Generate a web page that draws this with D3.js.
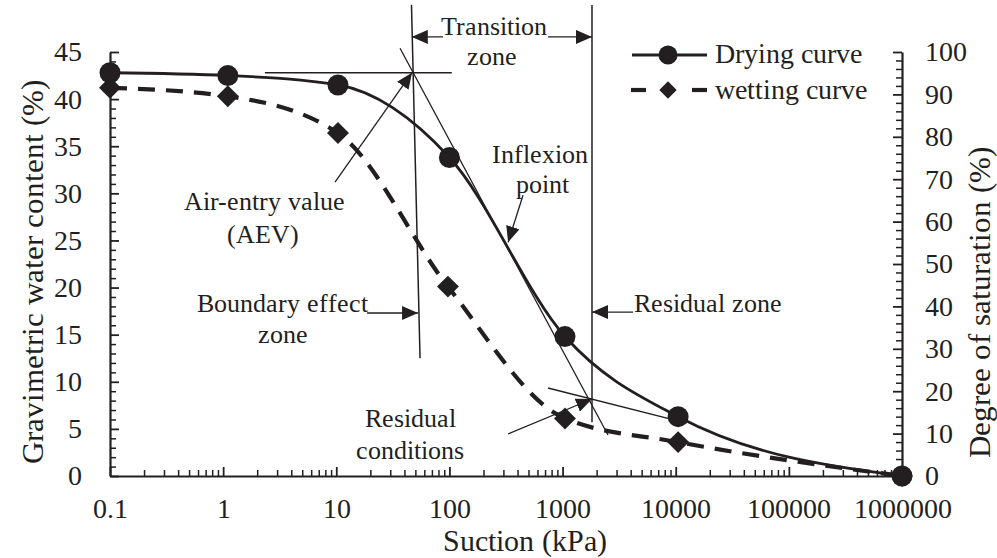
<!DOCTYPE html>
<html>
<head>
<meta charset="utf-8">
<script src="https://cdn.jsdelivr.net/npm/d3@7"></script>
<style>
  @font-face { font-family: "ChartSerif"; src: local("Liberation Serif"), local("LiberationSerif"), local("LiberationSerif-Regular"), local("Times New Roman"); }
</style>
</head>
<body style="margin:0">
<svg id="fig" width="997" height="558"></svg>
<script>
// ---------- DATA ----------
const suctionDrying = [0.1, 1.1, 10.35, 100, 1050, 10500, 1000000];
const waterDrying   = [42.8, 42.5, 41.5, 33.8, 14.8, 6.3, 0];
const suctionWetting = [0.1, 1.1, 10.35, 97, 1050, 10500, 1000000];
const waterWetting   = [41.2, 40.3, 36.4, 20.1, 6.1, 3.6, 0];

const xTickValues = [0.1, 1, 10, 100, 1000, 10000, 100000, 1000000];
const xTickLabels = ["0.1", "1", "10", "100", "1000", "10000", "100000", "1000000"];
const yLeftTicks = [0, 5, 10, 15, 20, 25, 30, 35, 40, 45];
const yRightTicks = [0, 10, 20, 30, 40, 50, 60, 70, 80, 90, 100];

const legendLabels = ["Drying curve", "wetting curve"];

// annotation geometry in data units: [suction (kPa), water content (%)]
const aevHorizontal = [[2.34, 42.8], [105, 42.8]];
const steepTangent = [[36.6, 45.4], [2520, 4.35]];
const residualTangent = [[743, 9.34], [12500, 5.6]];
const leftBoundary = [[46.2, 50], [55, 12.5]];
const rightBoundary = [[1820, 50], [1820, 5.7]];
const transitionLeft = [[87.8, 46.6], [46.5, 46.6]];
const transitionRight = [[743, 46.6], [1820, 46.6]];
const aevArrow = [[9.75, 31.2], [46.7, 42.8]];
const inflexionArrow = [[447, 29.8], [330, 24.8]];
const boundaryArrow = [[18.7, 17.3], [52.8, 17.3]];
const residualZoneArrow = [[4200, 17.4], [1820, 17.4]];
const residualCondArrow = [[330, 4.46], [1820, 8.17]];
const annotationTexts = [
  {t: "Transition", s: 248, w: 46.8},
  {t: "zone", s: 238, w: 43.6},
  {t: "Inflexion", s: 632, w: 33.2},
  {t: "point", s: 658, w: 30.0},
  {t: "Air-entry value", s: 2.30, w: 28.2},
  {t: "(AEV)", s: 2.25, w: 24.7},
  {t: "Boundary effect", s: 3.38, w: 17.4},
  {t: "zone", s: 3.38, w: 14.1},
  {t: "Residual", s: 44.9, w: 5.2},
  {t: "conditions", s: 44.9, w: 1.8}
];
const residualZoneLabel = {t: "Residual zone", s: 4200, w: 17.4};

// ---------- SCALES ----------
const ink = "#231f20";
const FONT = 'ChartSerif, "Liberation Serif", "Times New Roman", serif';
const svg = d3.select("#fig");
const x = d3.scaleLog().domain([0.1, 1000000]).range([110, 902]);
const yL = d3.scaleLinear().domain([0, 45]).range([476, 52]);
const yR = d3.scaleLinear().domain([0, 100]).range([476, 52]);
const P = d => [x(d[0]), yL(d[1])];

const defs = svg.append("defs");
defs.append("marker").attr("id", "arr")
  .attr("markerUnits", "userSpaceOnUse")
  .attr("viewBox", "0 -7 16 14").attr("refX", 16).attr("refY", 0)
  .attr("markerWidth", 16).attr("markerHeight", 14).attr("orient", "auto")
  .append("path").attr("d", "M0,-7L16,0L0,7Z").attr("fill", ink);

function styleAxis(g) {
  g.attr("font-family", FONT).attr("font-size", 28);
  g.select(".domain").attr("stroke", ink).attr("stroke-width", 2.2);
  g.selectAll("line").attr("stroke", ink).attr("stroke-width", 1.8);
  g.selectAll("text").attr("font-family", FONT).style("font-family", FONT).attr("font-size", 28).attr("fill", ink);
}
function styleMinor(g) {
  g.select(".domain").remove();
  g.selectAll("line").attr("stroke", ink).attr("stroke-width", 1.5);
}

// ---------- AXES ----------
const xMinor = [];
for (let e = -1; e < 6; e++) for (let k = 2; k <= 9; k++) xMinor.push(k * Math.pow(10, e));
svg.append("g").attr("transform", "translate(0,476)")
  .call(d3.axisBottom(x).tickValues(xMinor).tickFormat("").tickSizeInner(-6).tickSizeOuter(0))
  .call(styleMinor);
svg.append("g").attr("transform", "translate(0,476)")
  .call(d3.axisBottom(x).tickValues(xTickValues)
    .tickFormat((d, i) => xTickLabels[i]).tickSizeInner(-9).tickSizeOuter(0).tickPadding(22))
  .call(styleAxis);

const yMinorL = d3.range(0, 46, 1).filter(v => v % 5 !== 0);
svg.append("g").attr("transform", "translate(110,0)")
  .call(d3.axisLeft(yL).tickValues(yMinorL).tickFormat("").tickSizeInner(-6).tickSizeOuter(0))
  .call(styleMinor);
svg.append("g").attr("transform", "translate(110,0)")
  .call(d3.axisLeft(yL).tickValues(yLeftTicks).tickSizeInner(-9).tickSizeOuter(0).tickPadding(28))
  .call(styleAxis);

const yMinorR = d3.range(0, 101, 2).filter(v => v % 10 !== 0);
svg.append("g").attr("transform", "translate(902,0)")
  .call(d3.axisRight(yR).tickValues(yMinorR).tickFormat("").tickSizeInner(-6).tickSizeOuter(0))
  .call(styleMinor);
svg.append("g").attr("transform", "translate(902,0)")
  .call(d3.axisRight(yR).tickValues(yRightTicks).tickSizeInner(-9).tickSizeOuter(0).tickPadding(23))
  .call(styleAxis);

function txt(sel, size) {
  return sel.attr("font-family", FONT).style("font-family", FONT).attr("font-size", size).attr("fill", ink);
}

// axis titles
txt(svg.append("text").attr("x", 525).attr("y", 551).attr("text-anchor", "middle"), 30)
  .text("Suction (kPa)");
txt(svg.append("text").attr("transform", "translate(43,272) rotate(-90)").attr("text-anchor", "middle"), 31)
  .text("Gravimetric water content (%)");
txt(svg.append("text").attr("transform", "translate(990,302) rotate(-90)").attr("text-anchor", "middle"), 31)
  .text("Degree of saturation (%)");

// ---------- ANNOTATION LINES ----------
const ann = svg.append("g").attr("stroke", ink).attr("fill", "none");
function seg(pts, w, arrow) {
  const p = ann.append("line")
    .attr("x1", P(pts[0])[0]).attr("y1", P(pts[0])[1])
    .attr("x2", P(pts[1])[0]).attr("y2", P(pts[1])[1])
    .attr("stroke-width", w);
  if (arrow) p.attr("marker-end", "url(#arr)");
}
seg(aevHorizontal, 1.3);
seg(steepTangent, 1.3);
seg(residualTangent, 1.3);
seg(leftBoundary, 1.5);
seg(rightBoundary, 1.5);
seg(transitionLeft, 1.3, true);
seg(transitionRight, 1.3, true);
seg(aevArrow, 1.3, true);
seg(inflexionArrow, 1.3, true);
seg(boundaryArrow, 1.3, true);
seg(residualZoneArrow, 1.3, true);
seg(residualCondArrow, 1.3, true);

// ---------- CURVES ----------
const drying = suctionDrying.map((s, i) => [s, waterDrying[i]]);
const wetting = suctionWetting.map((s, i) => [s, waterWetting[i]]);
const line = d3.line().x(d => x(d[0])).y(d => yL(d[1])).curve(d3.curveMonotoneX);

svg.append("path").attr("d", line(wetting)).attr("fill", "none")
  .attr("stroke", ink).attr("stroke-width", 4.2).attr("stroke-dasharray", "17,11");
svg.append("path").attr("d", line(drying)).attr("fill", "none")
  .attr("stroke", ink).attr("stroke-width", 2.8);

const diamond = d3.symbol().type(d3.symbolSquare).size(240);
svg.append("g").selectAll("path").data(wetting).join("path")
  .attr("d", diamond)
  .attr("transform", d => `translate(${x(d[0])},${yL(d[1])}) rotate(45)`)
  .attr("fill", ink);
svg.append("g").selectAll("circle").data(drying).join("circle")
  .attr("cx", d => x(d[0])).attr("cy", d => yL(d[1])).attr("r", 10.5).attr("fill", ink);

// ---------- ANNOTATION TEXT ----------
txt(svg.append("g").selectAll("text").data(annotationTexts).join("text")
  .attr("x", d => x(d.s)).attr("y", d => yL(d.w)).attr("text-anchor", "middle"), 26)
  .text(d => d.t);
txt(svg.append("text").attr("x", x(residualZoneLabel.s) + 1).attr("y", yL(residualZoneLabel.w)), 26)
  .text(residualZoneLabel.t);

// ---------- LEGEND ----------
const lg = svg.append("g");
lg.append("line").attr("x1", 632).attr("x2", 707).attr("y1", 55).attr("y2", 55)
  .attr("stroke", ink).attr("stroke-width", 2.8);
lg.append("circle").attr("cx", 668).attr("cy", 55).attr("r", 9.5).attr("fill", ink);
lg.append("line").attr("x1", 631).attr("x2", 646).attr("y1", 90).attr("y2", 90)
  .attr("stroke", ink).attr("stroke-width", 4.2);
lg.append("line").attr("x1", 692).attr("x2", 707).attr("y1", 90).attr("y2", 90)
  .attr("stroke", ink).attr("stroke-width", 4.2);
lg.append("path").attr("d", d3.symbol().type(d3.symbolSquare).size(150))
  .attr("transform", "translate(668,90) rotate(45)").attr("fill", ink);
txt(lg.selectAll("text").data(legendLabels).join("text")
  .attr("x", 715).attr("y", (d, i) => 63 + i * 36), 28)
  .text(d => d);
</script>
</body>
</html>
